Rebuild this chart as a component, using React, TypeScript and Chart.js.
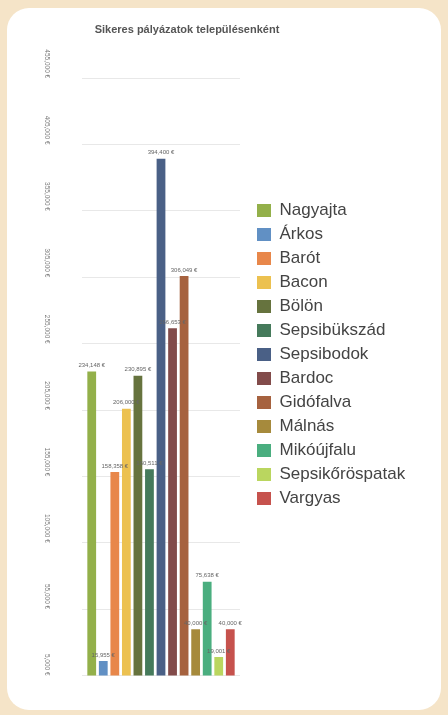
import React, { useEffect, useRef } from 'react';
import { Chart, registerables } from 'chart.js';

Chart.register(...registerables);

const categories = [
  'Nagyajta', 'Árkos', 'Barót', 'Bacon', 'Bölön', 'Sepsibükszád', 'Sepsibodok',
  'Bardoc', 'Gidófalva', 'Málnás', 'Mikóújfalu', 'Sepsikőröspatak', 'Vargyas',
];
const values = [234148, 15955, 158358, 206000, 230895, 160511, 394400, 266653, 306049, 40000, 75638, 19001, 40000];
const colors = [
  '#93b04a', '#6190c4', '#e8874a', '#ecc150', '#66733e', '#457a5b', '#4a6086',
  '#824b4a', '#a6623f', '#a68a3c', '#4aae7f', '#bad65f', '#c6524d',
];
const yTickValues = [5000, 55000, 105000, 155000, 205000, 255000, 305000, 355000, 405000, 455000];
const yTickLabels = ['5,000 €', '55,000 €', '105,000 €', '155,000 €', '205,000 €', '255,000 €', '305,000 €', '355,000 €', '405,000 €', '455,000 €'];
const titleText = 'Sikeres pályázatok településenként';

const fmt = (v: number) => v.toLocaleString('en-US') + ' €';

const FONT = '"Liberation Sans", Arial, sans-serif';

const valueLabelPlugin = {
  id: 'valueLabels',
  afterDatasetsDraw(chart: any) {
    const ctx = chart.ctx;
    ctx.save();
    ctx.font = `6px ${FONT}`;
    ctx.fillStyle = '#666666';
    ctx.textAlign = 'center';
    ctx.textBaseline = 'bottom';
    chart.data.datasets.forEach((ds: any, i: number) => {
      const meta = chart.getDatasetMeta(i);
      meta.data.forEach((el: any, j: number) => {
        ctx.fillText(fmt(ds.data[j]), el.x, el.y - 3);
      });
    });
    ctx.restore();
  },
};

export default function App() {
  const ref = useRef<HTMLCanvasElement | null>(null);

  useEffect(() => {
    if (!ref.current) return;
    Chart.defaults.font.family = FONT;
    const chart = new Chart(ref.current, {
      type: 'bar',
      data: {
        labels: [''],
        datasets: categories.map((name, i) => ({
          label: name,
          data: [values[i]],
          backgroundColor: colors[i],
          borderWidth: 0,
          yAxisID: 'y',
          categoryPercentage: 0.95,
          barPercentage: 0.76,
        })),
      },
      options: {
        responsive: false,
        animation: false,
        layout: { padding: { top: 19, bottom: 25, left: 0, right: 20 } },
        plugins: {
          title: {
            display: true,
            text: titleText,
            color: '#555555',
            font: { family: FONT, size: 11, weight: 'bold' },
            padding: { top: 4, bottom: 42 },
          },
          legend: {
            display: true,
            position: 'right',
            align: 'center',
            maxWidth: 160,
            labels: {
              boxWidth: 14,
              boxHeight: 13,
              padding: 7,
              color: '#444444',
              font: { family: FONT, size: 17 },
            },
          },
          tooltip: { enabled: false },
        },
        scales: {
          x: {
            type: 'category',
            display: false,
          },
          y: {
            type: 'linear',
            position: 'left',
            min: 5000,
            max: 455000,
            afterBuildTicks: (scale: any) => {
              scale.ticks = yTickValues.map((v) => ({ value: v }));
            },
            afterFit: (scale: any) => {
              scale.width = 118;
            },
            grid: { color: '#e8e8e8', lineWidth: 1, drawTicks: false },
            border: { display: false },
            ticks: {
              minRotation: -90,
              maxRotation: 50,
              padding: 35.5,
              color: '#777777',
              font: { family: FONT, size: 6.5 },
              callback: (_v: any, i: number) => yTickLabels[i],
            },
          },
          yR: {
            type: 'linear',
            position: 'right',
            display: true,
            grid: { display: false },
            border: { display: false },
            ticks: { display: false },
            afterFit: (scale: any) => {
              scale.width = 10;
            },
          },
        },
      } as any,
      plugins: [valueLabelPlugin],
    });
    return () => chart.destroy();
  }, []);

  return (
    <div style={{ position: 'fixed', inset: 0, background: '#f5e4c8', overflow: 'hidden' }}>
      <div
        style={{
          position: 'absolute',
          left: 7,
          top: 8,
          width: 434,
          height: 702,
          background: '#ffffff',
          borderRadius: 22,
        }}
      />
      <canvas
        ref={ref}
        width={466}
        height={715}
        style={{ position: 'absolute', left: -36, top: 0, width: 466, height: 715 }}
      />
    </div>
  );
}
